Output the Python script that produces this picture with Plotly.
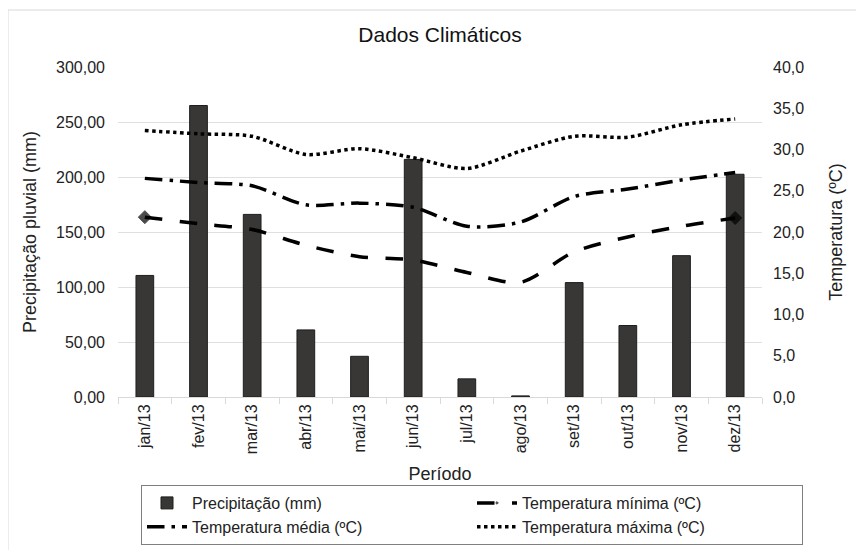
import plotly.graph_objects as go

meses = ["jan/13", "fev/13", "mar/13", "abr/13", "mai/13", "jun/13",
         "jul/13", "ago/13", "set/13", "out/13", "nov/13", "dez/13"]
precipitacao = [110.5, 265.0, 166.0, 61.0, 37.0, 216.0, 16.5, 1.0, 104.0, 65.0, 128.5, 202.5]
temp_min = [21.8, 21.0, 20.3, 18.4, 17.0, 16.6, 15.1, 13.9, 17.6, 19.4, 20.7, 21.7]
temp_med = [26.5, 26.0, 25.6, 23.3, 23.5, 23.0, 20.7, 21.2, 24.3, 25.2, 26.3, 27.2]
temp_max = [32.3, 31.9, 31.6, 29.4, 30.1, 29.0, 27.7, 29.8, 31.6, 31.5, 33.0, 33.7]

FONT = "Liberation Sans, Arial, sans-serif"
W, H = 856, 542  # page has an 8px body margin

fig = go.Figure()
fig.add_trace(go.Bar(
    x=meses, y=precipitacao, name="Precipitação (mm)",
    marker=dict(color="#383735", line=dict(color="#1e1e1e", width=1)),
    width=0.33, yaxis="y"))
fig.add_trace(go.Scatter(
    x=meses, y=temp_min, name="Temperatura mínima (ºC)", yaxis="y2",
    mode="lines+markers", line=dict(color="black", width=3.5, dash="longdash", shape="spline", smoothing=0.8),
    marker=dict(symbol="diamond", color="black", line=dict(color="black", width=1),
                size=[10 if i in (0, len(meses) - 1) else 0 for i in range(len(meses))])))
fig.add_trace(go.Scatter(
    x=meses, y=temp_med, name="Temperatura média (ºC)", yaxis="y2",
    mode="lines", line=dict(color="black", width=3.5, dash="longdashdot", shape="spline", smoothing=0.8)))
fig.add_trace(go.Scatter(
    x=meses, y=temp_max, name="Temperatura máxima (ºC)", yaxis="y2",
    mode="lines", line=dict(color="black", width=3.5, dash="dot", shape="spline", smoothing=0.8)))

fig.update_layout(
    width=W, height=H,
    margin=dict(l=110, r=102, t=59, b=153, autoexpand=False),
    paper_bgcolor="white", plot_bgcolor="white",
    separators=",.",
    font=dict(family=FONT, size=16, color="#222"),
    title=dict(text="Dados Climáticos", x=0.5, xref="paper", y=1 - 27 / H, yanchor="middle",
               font=dict(family=FONT, size=21, color="#111")),
    xaxis=dict(
        type="category", range=[-0.5, len(meses) - 0.5], tickangle=-90, showgrid=False, automargin=False,
        showline=True, linecolor="#d9d9d9", linewidth=1,
        ticks="outside", tickson="boundaries", ticklen=6, tickcolor="#d9d9d9",
        tickfont=dict(size=16, color="#222"),
        title=dict(text="Período", font=dict(size=18, color="#222"), standoff=14)),
    yaxis=dict(
        range=[0, 300], dtick=50, tickformat=".2f", showgrid=True, gridcolor="#e0e0e0",
        zeroline=False, showline=False, ticks="", automargin=False, ticklabelstandoff=12,
        tickfont=dict(size=16, color="#222"),
        title=dict(text="Precipitação pluvial (mm)", font=dict(size=18, color="#222"), standoff=14)),
    yaxis2=dict(
        range=[0, 40], dtick=5, tickformat=".1f", overlaying="y", side="right",
        showgrid=False, zeroline=False, showline=False, ticks="", automargin=False,
        ticklabelstandoff=10,
        tickfont=dict(size=16, color="#222"),
        title=dict(text="Temperatura (ºC)", font=dict(size=18, color="#222"), standoff=26)),
    legend=dict(
        orientation="h", x=(803 - 118) / 644, xanchor="right", y=-0.2667, yanchor="top",
        entrywidth=275, entrywidthmode="pixels",
        bordercolor="#7f7f7f", borderwidth=1, bgcolor="white",
        font=dict(size=16, color="#222"), traceorder="normal", itemwidth=40),
    shapes=[dict(type="rect", xref="paper", yref="paper",
                 x0=-110 / 644, x1=1.2, y0=-0.5, y1=(389 - 2) / 330,
                 line=dict(color="#d9d9d9", width=1), layer="below")],
)

fig.write_html("out.html")
